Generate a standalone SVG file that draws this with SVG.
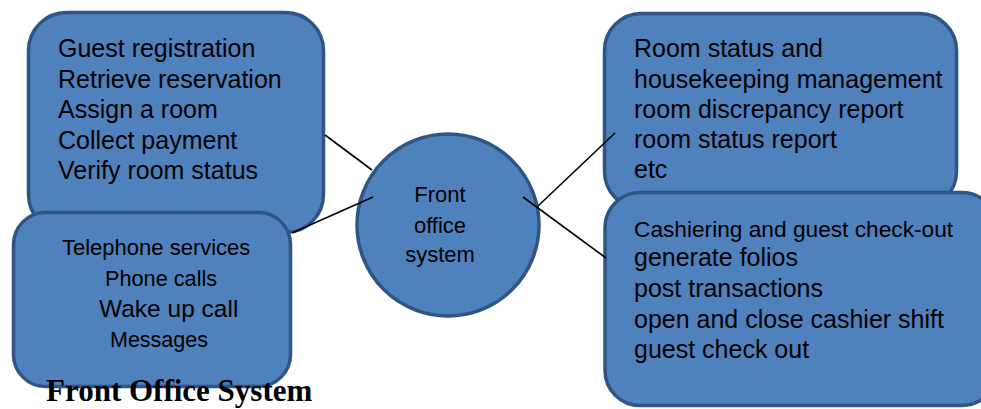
<svg xmlns="http://www.w3.org/2000/svg" width="981" height="409" viewBox="0 0 981 409">
<style>
.box{fill:#4f81bd;stroke:#2e5583;stroke-width:3.5}
.t{font-family:"Liberation Sans",Arial,sans-serif;fill:#000}
.l{font-size:25px}
.conn line{stroke:#000;stroke-width:1.6}
.title{font-family:"Liberation Serif","Times New Roman",serif;font-weight:bold;font-size:31px;fill:#000}
</style>
<rect width="981" height="409" fill="#fff"/>
<g id="node-registration">
<rect class="box" x="28.5" y="12.5" width="295" height="220" rx="38"/>
<text class="t l" x="58" y="57">Guest registration</text>
<text class="t l" x="58" y="88">Retrieve reservation</text>
<text class="t l" x="58" y="118">Assign a room</text>
<text class="t l" x="58" y="149">Collect payment</text>
<text class="t l" x="58" y="179">Verify room status</text>
</g>
<g id="node-telephone">
<rect class="box" x="13.5" y="212.5" width="277" height="174" rx="32"/>
<text class="t" x="62" y="255" font-size="22">Telephone services</text>
<text class="t" x="105" y="286" font-size="21.7">Phone calls</text>
<text class="t" x="99" y="317" font-size="24.5">Wake up call</text>
<text class="t" x="110" y="347" font-size="21.5">Messages</text>
</g>
<g id="node-housekeeping">
<rect class="box" x="604.5" y="13.5" width="352" height="195" rx="37"/>
<text class="t l" x="634" y="57">Room status and</text>
<text class="t l" x="634" y="88">housekeeping management</text>
<text class="t l" x="634" y="118">room discrepancy report</text>
<text class="t l" x="634" y="148">room status report</text>
<text class="t l" x="634" y="178">etc</text>
</g>
<g id="node-cashiering">
<rect class="box" x="605" y="192.5" width="392" height="213" rx="35"/>
<text class="t" x="634" y="237" font-size="22.7">Cashiering and guest check-out</text>
<text class="t l" x="634" y="266">generate folios</text>
<text class="t l" x="634" y="297">post transactions</text>
<text class="t l" x="634" y="328">open and close cashier shift</text>
<text class="t l" x="634" y="358">guest check out</text>
</g>
<g id="node-front-office">
<circle class="box" cx="448" cy="225" r="91"/>
<text class="t" x="440" y="202" font-size="22" text-anchor="middle">Front</text>
<text class="t" x="440" y="233" font-size="22" text-anchor="middle">office</text>
<text class="t" x="440" y="262" font-size="22" text-anchor="middle">system</text>
</g>
<g id="connectors" class="conn">
<line x1="325" y1="135" x2="372" y2="170"/>
<line x1="292" y1="233" x2="373" y2="197"/>
<line x1="538" y1="206" x2="615" y2="133"/>
<line x1="523" y1="197" x2="606" y2="258"/>
</g>
<text class="title" x="46" y="401">Front Office System</text>
</svg>
